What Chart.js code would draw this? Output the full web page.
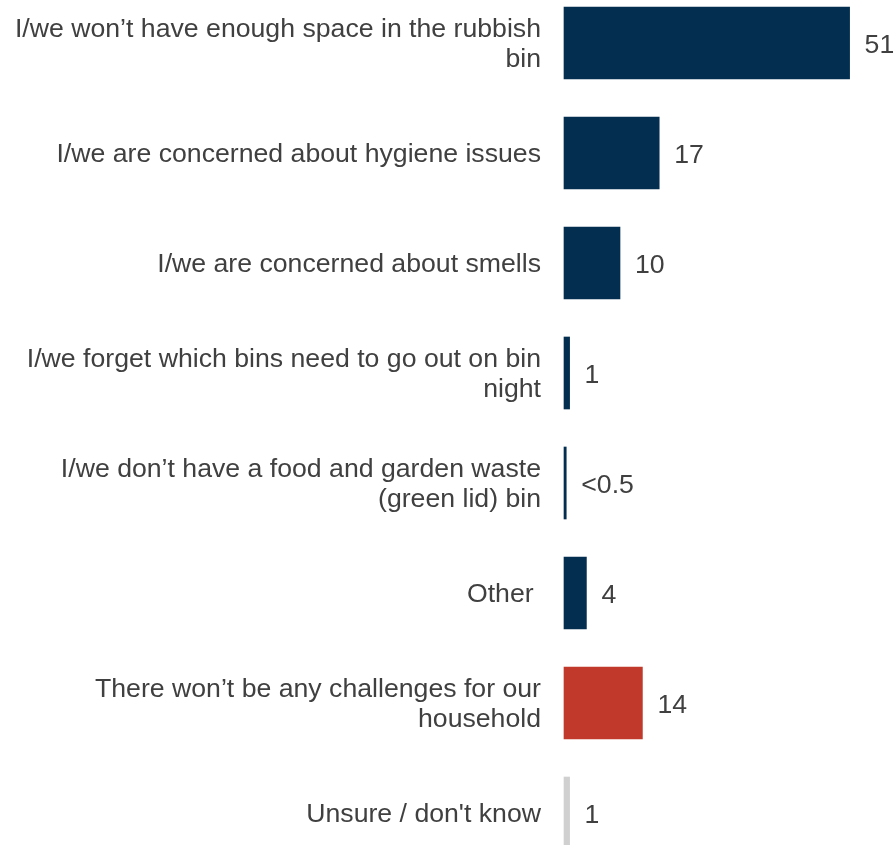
<!DOCTYPE html>
<html>
<head>
<meta charset="utf-8">
<script src="https://cdn.jsdelivr.net/npm/chart.js@4/dist/chart.umd.min.js"></script>
<style>
  html, body { margin: 0; padding: 0; background: #ffffff; }
  #wrap { width: 896px; height: 845px; }
</style>
</head>
<body>
<div id="wrap"><canvas id="chart" width="896" height="845"></canvas></div>
<script>
// Reasons given for household bin challenges (%)
const categories = [
  ["I/we won\u2019t have enough space in the rubbish", "bin"],
  "I/we are concerned about hygiene issues",
  "I/we are concerned about smells",
  ["I/we forget which bins need to go out on bin", "night"],
  ["I/we don\u2019t have a food and garden waste", "(green lid) bin"],
  "Other ",
  ["There won\u2019t be any challenges for our", "household"],
  "Unsure / don't know"
];
const values = [51, 17, 10, 1, 0.4, 4, 14, 1];
const barColors = ["#032E4F", "#032E4F", "#032E4F", "#032E4F", "#032E4F", "#032E4F", "#C0392B", "#D0D0D0"];

const TEXT_COLOR = "#404040";
const FONT_FAMILY = "'Liberation Sans', Arial, sans-serif";
const FONT_SIZE = 26.67;

function valueText(v) {
  return v < 0.5 ? "<0.5" : String(v);
}

// Nudges the category labels so their capitals sit centred on the bars
const labelNudge = {
  id: "labelNudge",
  beforeDraw(chart) {
    const items = chart.scales.y.getLabelItems();
    if (items._nudged) return;
    items.forEach(item => { item.options.translation[1] += 2; });
    items._nudged = true;
  }
};

// Writes each bar's value just past its end
const valueLabels = {
  id: "valueLabels",
  afterDatasetsDraw(chart) {
    const ctx = chart.ctx;
    const meta = chart.getDatasetMeta(0);
    ctx.save();
    ctx.font = FONT_SIZE + "px " + FONT_FAMILY;
    ctx.fillStyle = TEXT_COLOR;
    ctx.textAlign = "left";
    ctx.textBaseline = "middle";
    meta.data.forEach((bar, i) => {
      ctx.fillText(valueText(chart.data.datasets[0].data[i]), bar.x + 15, bar.y + 2.5);
    });
    ctx.restore();
  }
};

new Chart(document.getElementById("chart"), {
  type: "bar",
  data: {
    labels: categories,
    datasets: [{
      data: values,
      backgroundColor: barColors,
      borderWidth: 0,
      barThickness: 72,
      clip: false
    }]
  },
  options: {
    indexAxis: "y",
    responsive: false,
    animation: false,
    layout: { padding: { top: 43, bottom: 32, left: 0, right: 24 } },
    plugins: {
      legend: { display: false },
      tooltip: { enabled: false }
    },
    scales: {
      x: {
        display: false,
        min: 0,
        max: 55
      },
      y: {
        offset: false,
        grid: { display: false, drawTicks: false },
        border: { display: false },
        afterFit(scale) {
          scale.width = 564;
          // the category rows span the full plot height; no extra room for end labels
          scale.paddingTop = 0;
          scale.paddingBottom = 0;
        },
        ticks: {
          padding: 23,
          color: TEXT_COLOR,
          font: { family: FONT_FAMILY, size: FONT_SIZE, lineHeight: 1.125 }
        }
      }
    }
  },
  plugins: [labelNudge, valueLabels]
});
</script>
</body>
</html>
